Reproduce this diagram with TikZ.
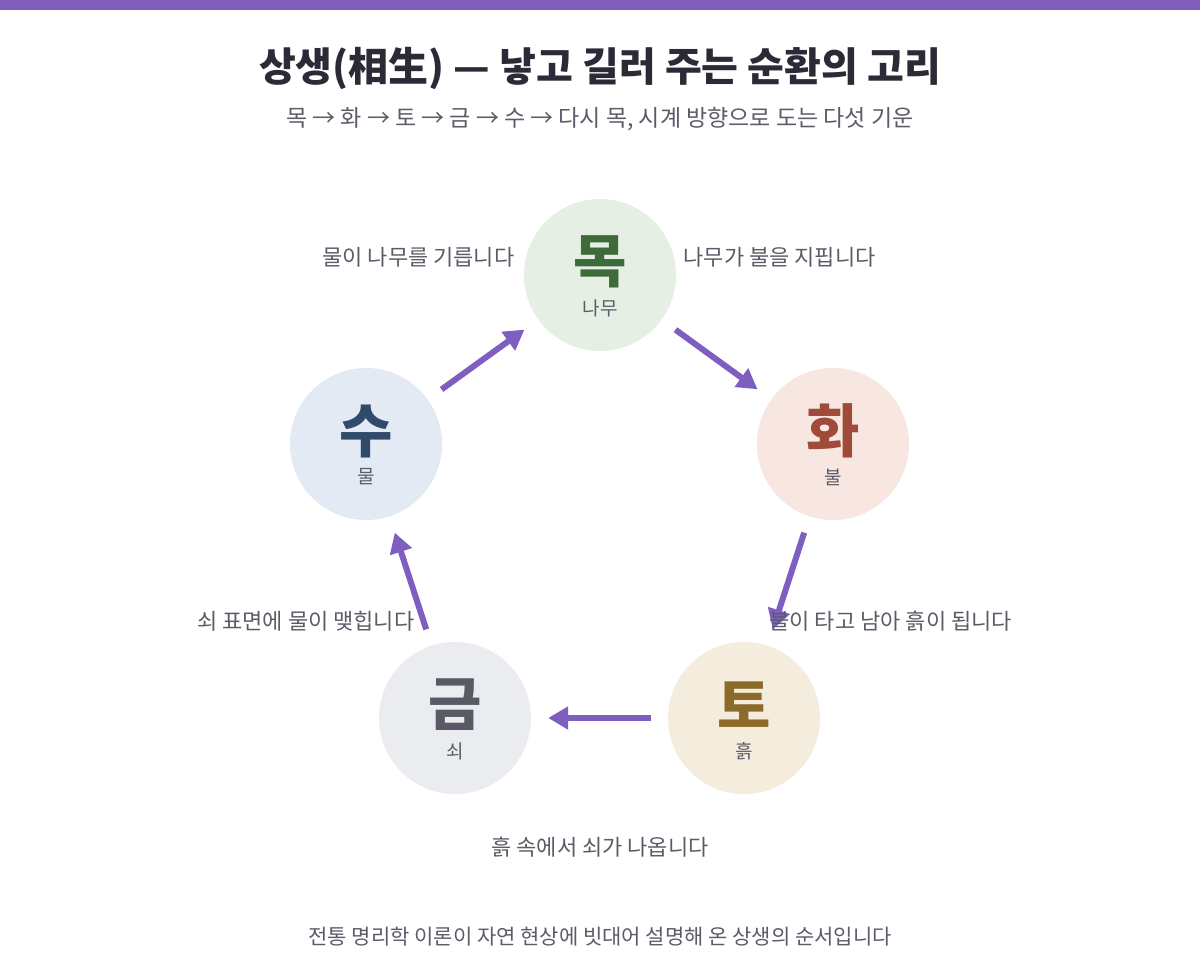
\documentclass[tikz,border=0pt]{standalone}
\usepackage{fontspec}
\setmainfont{Noto Sans CJK KR}
\newfontfamily\kb{Noto Sans CJK KR Bold}
\usetikzlibrary{arrows.meta}
\definecolor{pur}{HTML}{7E5FC0}
\definecolor{txt}{HTML}{5A5D68}
\definecolor{ttl}{HTML}{2A2B36}
\begin{document}
\begin{tikzpicture}[x=1pt,y=-1pt,
 el/.style={circle,minimum size=152pt,inner sep=0pt},
 big/.style={font=\fontsize{58}{58}\selectfont\bfseries},
 small/.style={font=\fontsize{19}{19}\selectfont,text=txt},
 lab/.style={font=\fontsize{22}{22}\selectfont,text=txt},
 arr/.style={pur,line width=6pt,-{Triangle[length=20pt,width=22pt]},shorten <=17pt,shorten >=17pt}]
\useasboundingbox[fill=white] (0,0) rectangle (1200,980);
\fill[pur] (0,0) rectangle (1200,10);
\node[font=\fontsize{40}{40}\selectfont\bfseries,text=ttl] (title) at (600,68) {상생(相生) — 낳고 길러 주는 순환의 고리};
\node[font=\fontsize{23}{23}\selectfont,text=txt] (sub) at (600,119) {목 → 화 → 토 → 금 → 수 → 다시 목, 시계 방향으로 도는 다섯 기운};
\node[el,fill={rgb,255:red,229;green,239;blue,227}] (mok) at (600,275) {};
\node[el,fill={rgb,255:red,248;green,230;blue,225}] (hwa) at (833,444) {};
\node[el,fill={rgb,255:red,244;green,236;blue,220}] (to) at (744,718) {};
\node[el,fill={rgb,255:red,235;green,236;blue,239}] (geum) at (455,718) {};
\node[el,fill={rgb,255:red,227;green,234;blue,243}] (su) at (366,444) {};
\node[big,text={rgb,255:red,63;green,107;blue,58}] (mokc) at (600,262) {목};
\node[small] (mokl) at (600,308) {나무};
\node[big,text={rgb,255:red,160;green,74;blue,58}] (hwac) at (833,431) {화};
\node[small] (hwal) at (833,477) {불};
\node[big,text={rgb,255:red,139;green,106;blue,42}] (toc) at (744,705) {토};
\node[small] (tol) at (744,751) {흙};
\node[big,text={rgb,255:red,90;green,90;blue,102}] (geumc) at (455,705) {금};
\node[small] (geuml) at (455,751) {쇠};
\node[big,text={rgb,255:red,47;green,74;blue,106}] (suc) at (366,431) {수};
\node[small] (sul) at (366,477) {물};
\draw[arr] (su) -- (mok);
\draw[arr] (mok) -- (hwa);
\draw[arr] (hwa) -- (to);
\draw[arr] (to) -- (geum);
\draw[arr] (geum) -- (su);
\node[lab,anchor=east] (l1) at (518,257) {물이 나무를 기릅니다};
\node[lab,anchor=west] (l2) at (680,257) {나무가 불을 지핍니다};
\node[lab,anchor=west] (l3) at (766,621) {불이 타고 남아 흙이 됩니다};
\node[lab,anchor=east] (l4) at (418,621) {쇠 표면에 물이 맺힙니다};
\node[lab] (l5) at (600,847) {흙 속에서 쇠가 나옵니다};
\node[lab,font=\fontsize{21}{21}\selectfont] (foot) at (600,937) {전통 명리학 이론이 자연 현상에 빗대어 설명해 온 상생의 순서입니다};
\end{tikzpicture}
\end{document}
